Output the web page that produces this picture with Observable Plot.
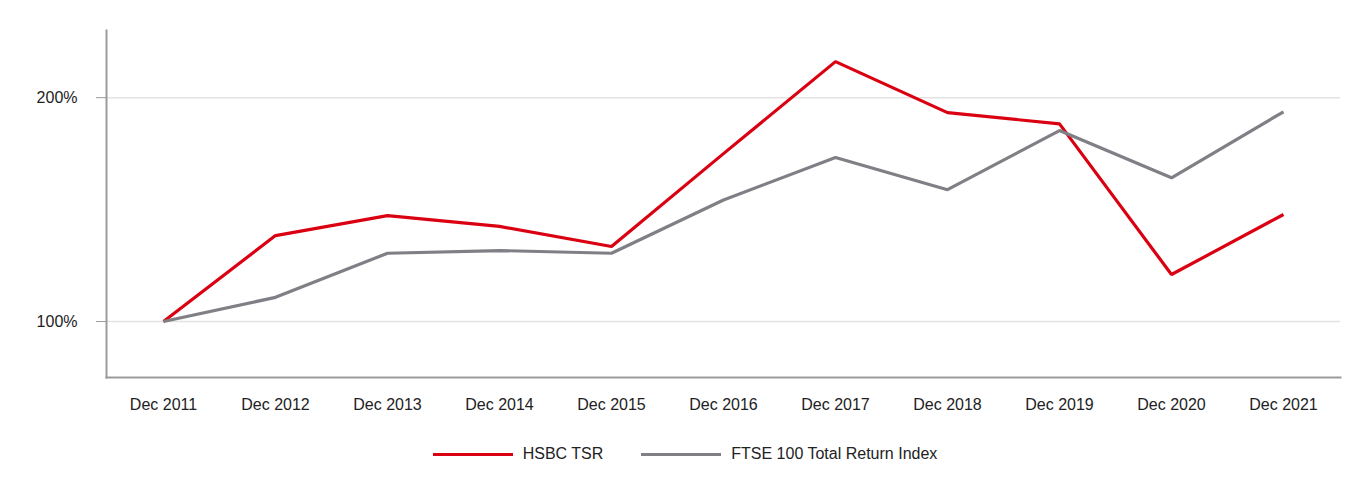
<!DOCTYPE html>
<html>
<head>
<meta charset="utf-8">
<script src="https://cdn.jsdelivr.net/npm/d3@7"></script>
<script src="https://cdn.jsdelivr.net/npm/@observablehq/plot@0.6"></script>
<style>
  html, body { margin: 0; padding: 0; background: #fff; }
  body { width: 1370px; font-family: "Liberation Sans", Arial, sans-serif; color: #222; }
  #legend { display: flex; justify-content: center; align-items: center; margin-top: 15px; font-size: 16px; color: #222; }
  .item { display: flex; align-items: center; }
  .sw { width: 80px; height: 3px; margin-right: 10px; }
  .gap { width: 38px; }
</style>
</head>
<body>
<div id="chart"></div>
<div id="legend"></div>
<script>
const periods = ["Dec 2011","Dec 2012","Dec 2013","Dec 2014","Dec 2015","Dec 2016","Dec 2017","Dec 2018","Dec 2019","Dec 2020","Dec 2021"];
const hsbcTSR = [100, 138.4, 147.3, 142.5, 133.5, 175, 216.1, 193.3, 188.3, 121, 147.8];
const ftse100 = [100, 110.8, 130.5, 131.7, 130.5, 154.3, 173.3, 158.9, 185.3, 164.2, 193.7];
const seriesNames = ["HSBC TSR", "FTSE 100 Total Return Index"];
const seriesColors = ["#db0011", "#7f7f86"];
const yTicks = [100, 200];

const rows = [];
periods.forEach((p, i) => {
  rows.push({period: p, value: hsbcTSR[i], series: seriesNames[0]});
  rows.push({period: p, value: ftse100[i], series: seriesNames[1]});
});

const chart = Plot.plot({
  width: 1370,
  height: 430,
  marginTop: 30,
  marginBottom: 53,
  marginLeft: 106,
  marginRight: 30,
  style: {fontFamily: "Liberation Sans, Arial, sans-serif", fontSize: "16px", color: "#222", background: "#fff"},
  x: {type: "point", domain: periods, padding: 0.5, label: null},
  y: {domain: [75, 230], label: null},
  color: {domain: seriesNames, range: seriesColors},
  marks: [
    Plot.gridY(yTicks, {stroke: "#e3e3e3", strokeOpacity: 1, strokeWidth: 1.5}),
    Plot.frame({anchor: "left", stroke: "#9b9b9b", strokeWidth: 2}),
    Plot.frame({anchor: "bottom", stroke: "#9b9b9b", strokeWidth: 2}),
    Plot.axisY(yTicks, {tickSize: 10, tickPadding: 19, stroke: "#9b9b9b", tickFormat: d => d + "%", fill: "#222", fontSize: 16}),
    Plot.axisX({tickSize: 0, tickPadding: 21, fill: "#222", fontSize: 16}),
    Plot.line(rows, {x: "period", y: "value", stroke: "series", z: "series", strokeWidth: 3.2, strokeLinejoin: "miter", strokeLinecap: "butt"})
  ]
});
document.getElementById("chart").appendChild(chart);

const legend = document.getElementById("legend");
seriesNames.forEach((name, i) => {
  if (i > 0) {
    const g = document.createElement("div");
    g.className = "gap";
    legend.appendChild(g);
  }
  const item = document.createElement("div");
  item.className = "item";
  const sw = document.createElement("div");
  sw.className = "sw";
  sw.style.background = seriesColors[i];
  const lab = document.createElement("span");
  lab.textContent = name;
  item.appendChild(sw);
  item.appendChild(lab);
  legend.appendChild(item);
});
</script>
</body>
</html>
